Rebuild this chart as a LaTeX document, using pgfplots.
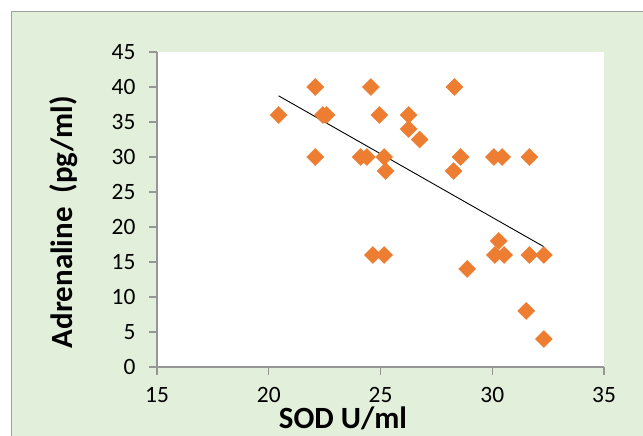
\documentclass[border=0pt]{standalone}
\usepackage{pgfplots}
\pgfplotsset{compat=1.18}
\usepackage{fontspec}
\setmainfont{Carlito}
\definecolor{bggreen}{RGB}{226,239,218}
\definecolor{frame}{RGB}{160,160,160}
\definecolor{axgray}{RGB}{150,150,150}
\definecolor{orng}{RGB}{237,125,49}
\begin{document}
\begin{tikzpicture}[x=1bp,y=1bp]
\useasboundingbox (0,0) rectangle (643,436);
\fill[white] (0,0) rectangle (643,436);
\fill[bggreen] (11.5,0) rectangle (643,424.5);
\draw[frame, line width=1bp] (11.5,-2) -- (11.5,424.5) -- (645,424.5);
\begin{axis}[
  at={(157bp,69bp)}, anchor=south west,
  scale only axis, width=447bp, height=315bp,
  xmin=15, xmax=35, ymin=0, ymax=45,
  xtick={15,20,25,30,35}, ytick={0,5,10,15,20,25,30,35,40,45},
  axis x line*=bottom, axis y line*=left,
  axis line style={axgray, line width=1.3bp},
  tick style={axgray, line width=1.3bp},
  tick align=outside, major tick length=8bp,
  axis background/.style={fill=white},
  /pgf/number format/assume math mode=true,
  ticklabel style={font=\fontsize{23.5}{27}\selectfont, text=black},
  yticklabel style={xshift=-10bp},
  xticklabel style={yshift=-9bp},
  xlabel={SOD U/ml},
  ylabel={Adrenaline~~(pg/ml)},
  label style={font=\fontsize{31}{36}\selectfont\bfseries},
  xlabel style={at={(axis description cs:0.416,0)}, anchor=base, yshift=-62bp},
  ylabel style={at={(axis description cs:-0.209,0.46)}, anchor=center},
  clip=false,
]
\addplot[only marks, mark=square*, mark size=6bp, mark options={rotate=45, fill=orng, draw=orng}]
coordinates {
(20.44,36) (22.08,40) (22.08,30) (22.42,36) (22.59,36)
(24.11,30) (24.39,30) (24.57,40) (24.66,16) (24.95,36)
(25.16,30) (25.16,16) (25.23,28) (26.26,36) (26.26,34)
(26.75,32.5) (28.31,40) (28.27,28) (28.58,30) (28.88,14)
(30.07,30) (30.44,30) (30.12,16) (30.53,16) (30.29,18)
(31.52,8) (31.66,30) (31.66,16) (32.31,16) (32.31,4)
};
\addplot[black, line width=0.9bp, mark=none] coordinates {(20.44,38.74) (32.31,17.18)};
\end{axis}
\end{tikzpicture}
\end{document}
